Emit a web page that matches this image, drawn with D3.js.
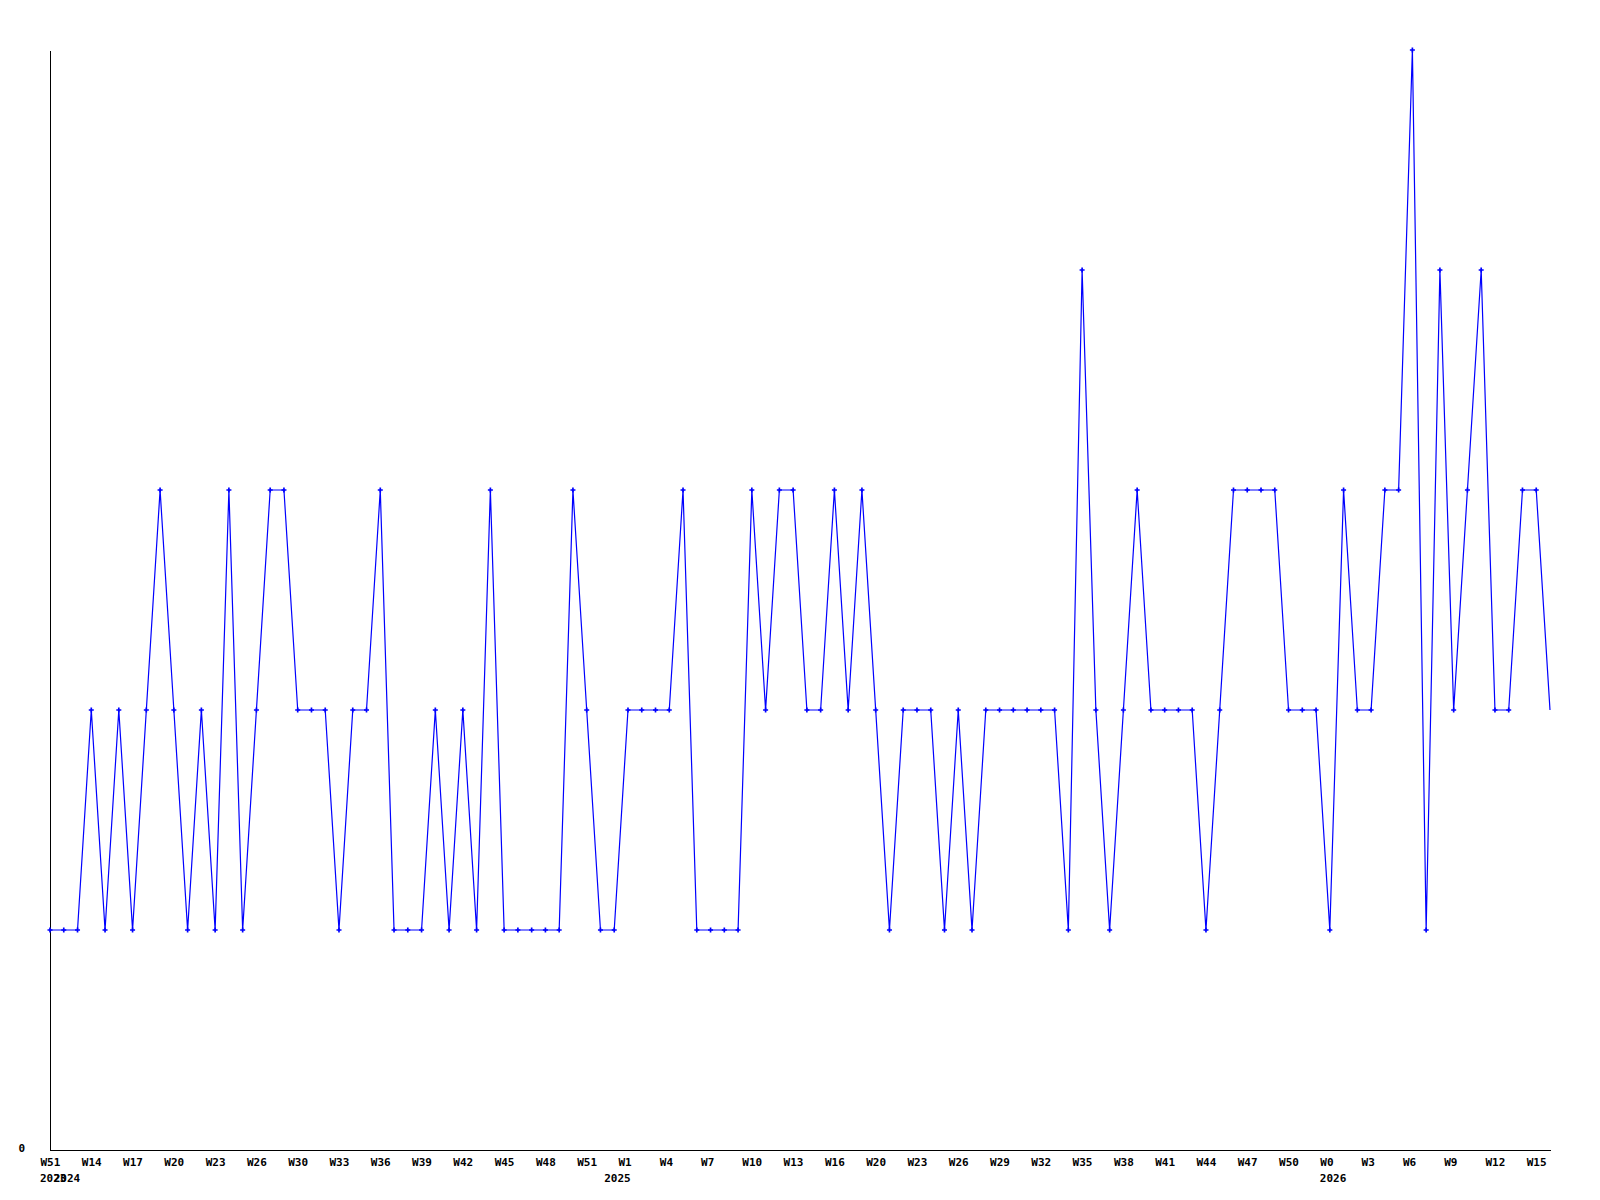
<!DOCTYPE html>
<html>
<head>
<meta charset="utf-8">
<script src="https://cdn.jsdelivr.net/npm/d3@7"></script>
<style>
  body { margin: 0; background: #fff; }
  svg { display: block; }
</style>
</head>
<body>
<svg id="chart" width="1600" height="1200"></svg>
<script>
// Weekly values, one per point
var values = [
  1,1,1,2,1,2,1,2,3,2,
  1,2,1,3,1,2,3,3,2,2,
  2,1,2,2,3,1,1,1,2,1,
  2,1,3,1,1,1,1,1,3,2,
  1,1,2,2,2,2,3,1,1,1,
  1,3,2,3,3,2,2,3,2,3,
  2,1,2,2,2,1,2,1,2,2,
  2,2,2,2,1,4,2,1,2,3,
  2,2,2,2,1,2,3,3,3,3,
  2,2,2,1,3,2,2,3,3,5,
  1,4,2,3,4,2,2,3,3,2
];

// Week tick labels, one every third point
var weekLabels = ['W51','W14','W17','W20','W23','W26','W30','W33','W36','W39',
  'W42','W45','W48','W51','W1','W4','W7','W10','W13','W16','W20','W23','W26',
  'W29','W32','W35','W38','W41','W44','W47','W50','W0','W3','W6','W9','W12','W15'];
var weekTicks = weekLabels.map(function(d, i) { return i * 3; });

// Year labels and the point they sit under
var yearLabels = ['2023','2024','2025','2026'];
var yearTicks = [0, 1, 41, 93];

var yMax = 5;

var margin = {top: 50, right: 50, bottom: 50, left: 50},
    width = 1600 - margin.left - margin.right,
    height = 1200 - margin.top - margin.bottom;

var xScale = d3.scaleLinear().domain([0, values.length - 1]).range([0, width]);
var yScale = d3.scaleLinear().domain([0, yMax]).range([height, 0]);

var font = 'DejaVu Sans Mono, monospace';

var svg = d3.select('#chart')
  .append('g')
  .attr('transform', 'translate(' + margin.left + ',' + margin.top + ')');

// x axis with week labels
var xAxis = d3.axisBottom(xScale)
  .tickValues(weekTicks)
  .tickFormat(function(d, i) { return weekLabels[i]; })
  .tickSize(0)
  .tickSizeOuter(0)
  .tickPadding(8);

var gx = svg.append('g')
  .attr('class', 'x axis')
  .attr('transform', 'translate(0,' + height + ')')
  .call(xAxis);
gx.select('.domain').attr('stroke', '#000').attr('shape-rendering', 'crispEdges');
gx.selectAll('text')
  .attr('text-anchor', 'start')
  .attr('x', -10)
  .attr('dy', '0.71em')
  .attr('fill', '#000')
  .style('font-family', font)
  .style('font-size', '11px')
  .style('font-weight', 'bold');

// year labels under the week labels
gx.selectAll('.year')
  .data(yearTicks)
  .enter().append('text')
  .attr('class', 'year')
  .attr('text-anchor', 'start')
  .attr('x', function(d) { return xScale(d) - 10; })
  .attr('y', 32)
  .attr('fill', '#000')
  .style('font-family', font)
  .style('font-size', '11px')
  .style('font-weight', 'bold')
  .text(function(d, i) { return yearLabels[i]; });

// y axis, only the zero label
var yAxis = d3.axisLeft(yScale)
  .tickValues([0])
  .tickFormat(d3.format('d'))
  .tickSize(0)
  .tickSizeOuter(0)
  .tickPadding(25);

var gy = svg.append('g')
  .attr('class', 'y axis')
  .call(yAxis);
gy.select('.domain').attr('stroke', '#000').attr('shape-rendering', 'crispEdges');
gy.selectAll('text')
  .attr('fill', '#000')
  .attr('dy', '0.1em')
  .style('font-family', font)
  .style('font-size', '11px')
  .style('font-weight', 'bold');

// the line
var line = d3.line()
  .x(function(d, i) { return xScale(i); })
  .y(function(d) { return yScale(d); });

svg.append('path')
  .datum(values)
  .attr('d', line)
  .attr('fill', 'none')
  .attr('stroke', '#0000ff')
  .attr('stroke-width', 1.2);

// point markers (the last point has none)
var cross = d3.symbol().type(d3.symbolCross).size(14);
svg.append('g').selectAll('path')
  .data(values.slice(0, values.length - 1))
  .enter().append('path')
  .attr('d', cross)
  .attr('transform', function(d, i) { return 'translate(' + xScale(i) + ',' + yScale(d) + ')'; })
  .attr('fill', '#0000ff');
</script>
</body>
</html>
